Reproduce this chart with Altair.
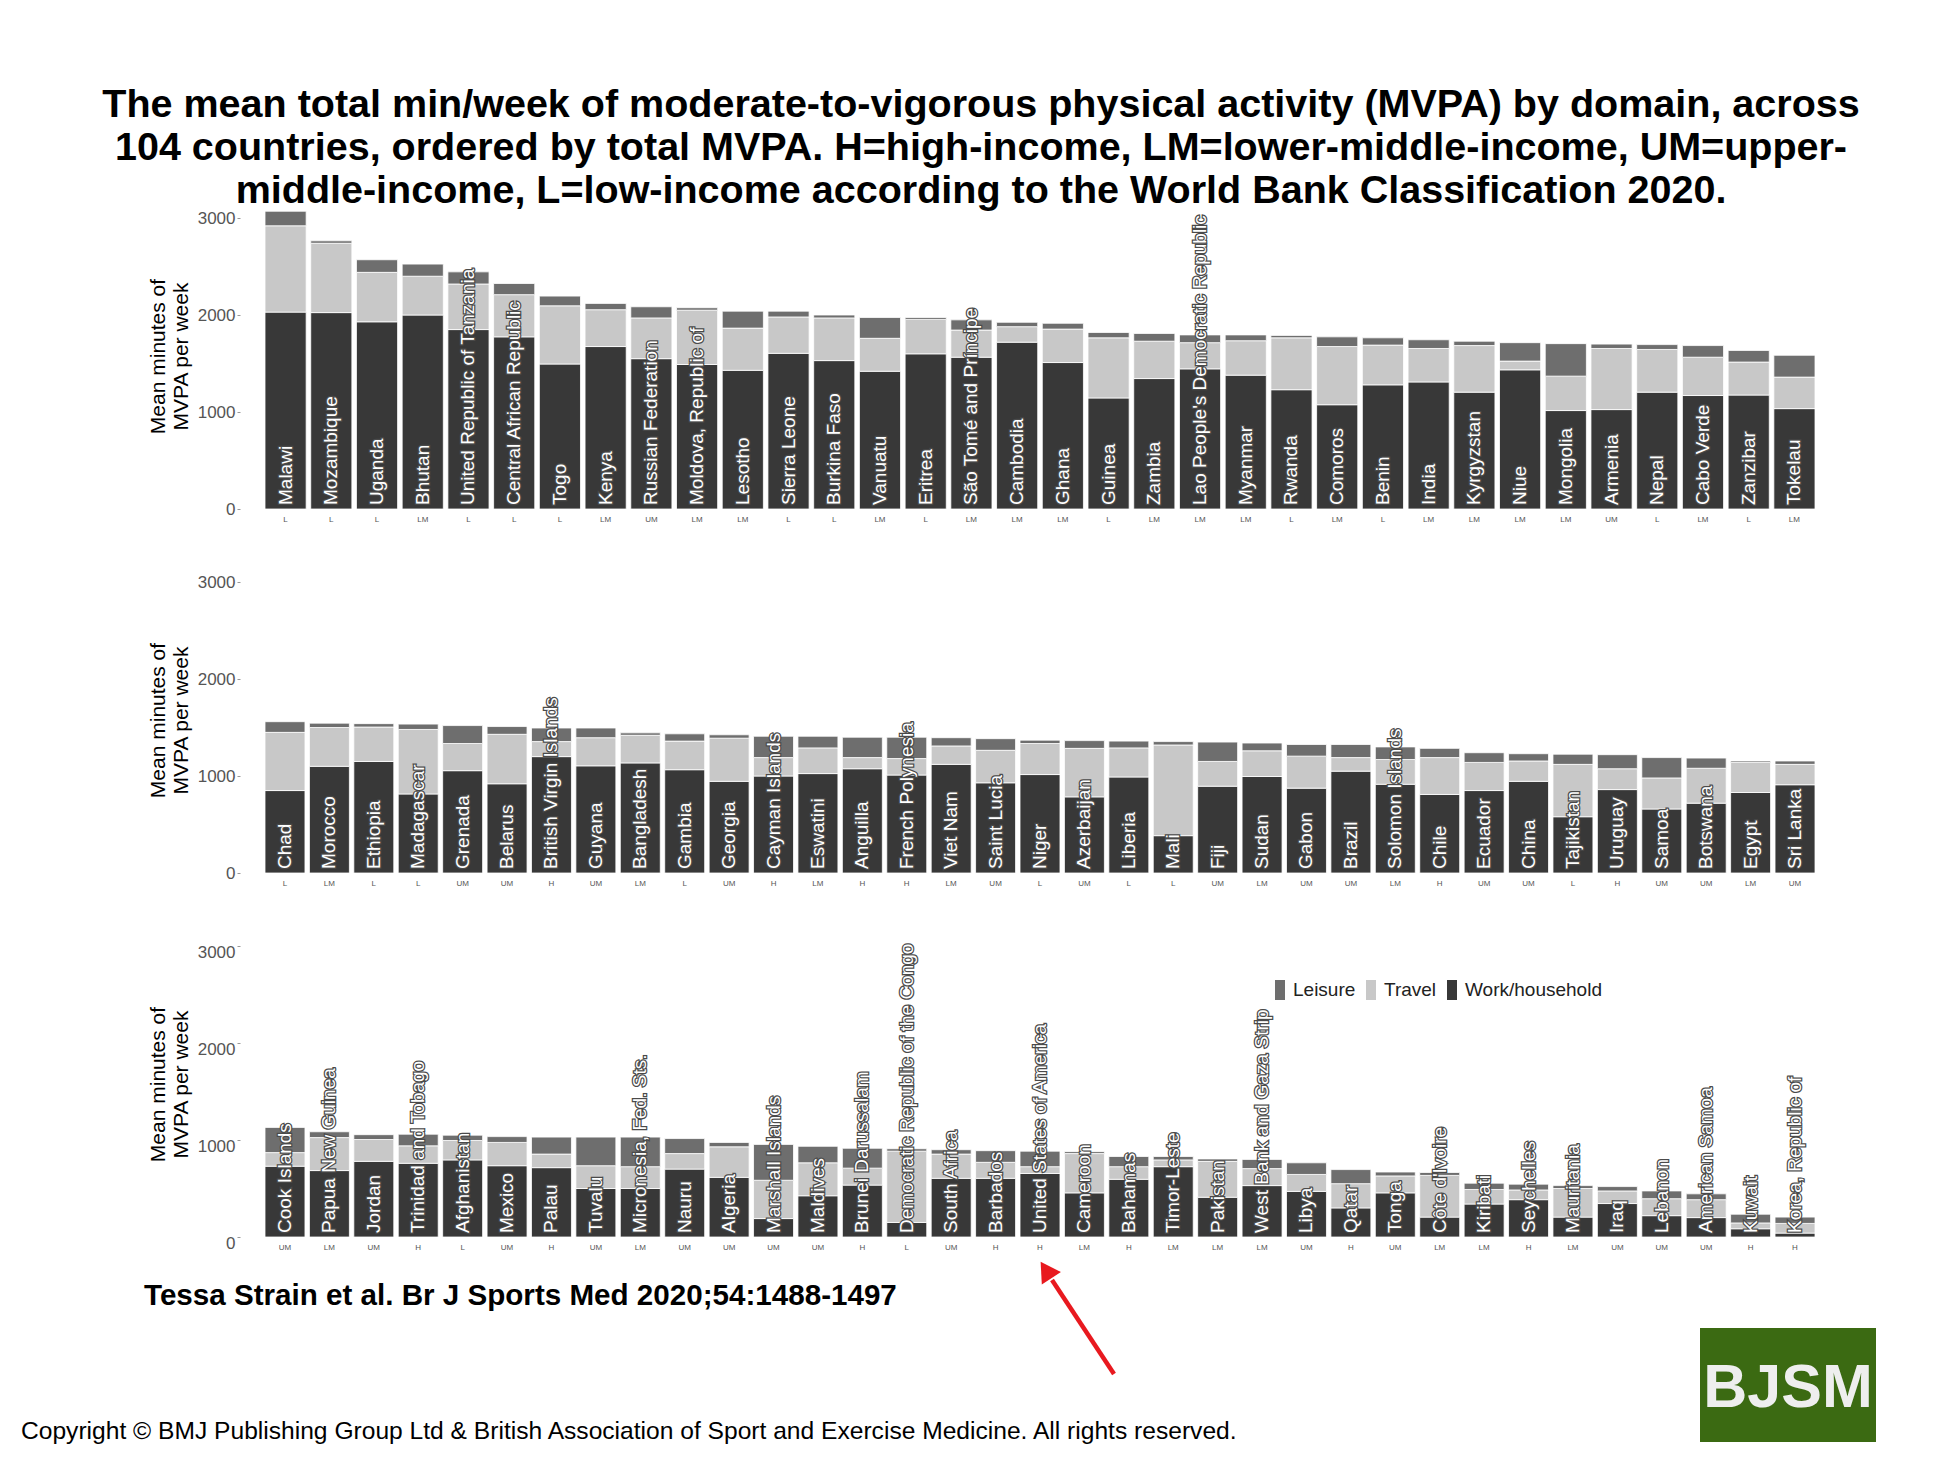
import altair as alt
import pandas as pd

# ---------------- data ----------------
countries1 = ["Malawi", "Mozambique", "Uganda", "Bhutan", "United Republic of Tanzania",
              "Central African Republic", "Togo", "Kenya", "Russian Federation",
              "Moldova, Republic of", "Lesotho", "Sierra Leone", "Burkina Faso", "Vanuatu",
              "Eritrea", "São Tomé and Príncipe", "Cambodia", "Ghana", "Guinea", "Zambia",
              "Lao People's Democratic Republic", "Myanmar", "Rwanda", "Comoros", "Benin",
              "India", "Kyrgyzstan", "Niue", "Mongolia", "Armenia", "Nepal", "Cabo Verde",
              "Zanzibar", "Tokelau"]
income1 = ["L", "L", "L", "LM", "L", "L", "L", "LM", "UM", "LM", "LM", "L", "L", "LM", "L", "LM",
           "LM", "LM", "L", "LM", "LM", "LM", "L", "LM", "L", "LM", "LM", "LM", "LM", "UM", "L",
           "LM", "L", "LM"]
work1 = [2030, 2025, 1930, 2000, 1850, 1775, 1495, 1675, 1550, 1490, 1430, 1605, 1530, 1420,
         1600, 1565, 1720, 1510, 1145, 1345, 1445, 1380, 1230, 1075, 1280, 1310, 1205, 1435,
         1015, 1025, 1205, 1170, 1175, 1035]
travel1 = [890, 715, 510, 400, 470, 435, 600, 380, 420, 560, 435, 375, 440, 340, 355, 280, 160,
           345, 620, 385, 270, 355, 535, 600, 410, 345, 480, 90, 355, 630, 440, 395, 340, 325]
leisure1 = [150, 25, 130, 125, 125, 115, 100, 65, 115, 25, 175, 60, 30, 215, 20, 105, 45, 60,
            55, 80, 80, 60, 25, 100, 75, 90, 45, 190, 335, 45, 50, 120, 120, 225]

countries2 = ["Chad", "Morocco", "Ethiopia", "Madagascar", "Grenada", "Belarus",
              "British Virgin Islands", "Guyana", "Bangladesh", "Gambia", "Georgia",
              "Cayman Islands", "Eswatini", "Anguilla", "French Polynesia", "Viet Nam",
              "Saint Lucia", "Niger", "Azerbaijan", "Liberia", "Mali", "Fiji", "Sudan", "Gabon",
              "Brazil", "Solomon Islands", "Chile", "Ecuador", "China", "Tajikistan", "Uruguay",
              "Samoa", "Botswana", "Egypt", "Sri Lanka"]
income2 = ["L", "LM", "L", "L", "UM", "UM", "H", "UM", "LM", "L", "UM", "H", "LM", "H", "H", "LM",
           "UM", "L", "UM", "L", "L", "UM", "LM", "UM", "UM", "LM", "H", "UM", "UM", "L", "H",
           "UM", "UM", "LM", "UM"]
work2 = [850, 1100, 1150, 815, 1055, 920, 1200, 1105, 1135, 1065, 945, 1000, 1025, 1075, 1010,
         1120, 930, 1015, 785, 990, 385, 895, 995, 875, 1050, 915, 810, 850, 945, 580, 860, 660,
         720, 830, 910]
travel2 = [600, 400, 355, 665, 280, 510, 155, 290, 285, 295, 445, 190, 265, 115, 170, 190, 335,
           320, 500, 300, 935, 255, 265, 330, 140, 255, 380, 290, 210, 540, 215, 320, 360, 310, 210]
leisure2 = [110, 45, 35, 55, 185, 80, 140, 100, 25, 75, 35, 220, 120, 210, 220, 85, 120, 35, 80,
            70, 35, 200, 80, 120, 135, 130, 95, 100, 75, 105, 145, 210, 105, 15, 35]

countries3 = ["Cook Islands", "Papua New Guinea", "Jordan", "Trinidad and Tobago", "Afghanistan",
              "Mexico", "Palau", "Tuvalu", "Micronesia, Fed. Sts.", "Nauru", "Algeria",
              "Marshall Islands", "Maldives", "Brunei Darussalam",
              "Democratic Republic of the Congo", "South Africa", "Barbados",
              "United States of America", "Cameroon", "Bahamas", "Timor-Leste", "Pakistan",
              "West Bank and Gaza Strip", "Libya", "Qatar", "Tonga", "Côte d'Ivoire", "Kiribati",
              "Seychelles", "Mauritania", "Iraq", "Lebanon", "American Samoa", "Kuwait",
              "Korea, Republic of"]
income3 = ["UM", "LM", "UM", "H", "L", "UM", "H", "UM", "LM", "UM", "UM", "UM", "UM", "H", "L",
           "UM", "H", "H", "LM", "H", "LM", "LM", "LM", "UM", "H", "UM", "LM", "LM", "H", "LM",
           "UM", "UM", "UM", "H", "H"]
work3 = [730, 685, 780, 760, 795, 735, 715, 500, 500, 700, 615, 190, 425, 535, 150, 605, 605,
         655, 455, 595, 725, 410, 530, 470, 300, 455, 205, 340, 385, 205, 345, 220, 200, 85, 40]
travel3 = [140, 340, 225, 180, 200, 240, 140, 235, 225, 160, 315, 395, 340, 175, 735, 250, 165,
           70, 405, 130, 70, 370, 175, 175, 250, 175, 430, 150, 100, 295, 130, 175, 185, 60, 100]
leisure3 = [260, 60, 50, 120, 55, 60, 175, 295, 305, 155, 45, 370, 170, 205, 25, 45, 120, 160,
            20, 105, 35, 25, 95, 120, 145, 40, 30, 65, 60, 30, 45, 80, 60, 90, 65]

domains = ["Leisure", "Travel", "Work/household"]
domain_colors = ["#6e6e6e", "#c8c8c8", "#383838"]

title_lines = [
    "The mean total min/week of moderate-to-vigorous physical activity (MVPA) by domain, across",
    "104 countries, ordered by total MVPA. H=high-income, LM=lower-middle-income, UM=upper-",
    "middle-income, L=low-income according to the World Bank Classification 2020.",
]
citation = "Tessa Strain et al. Br J Sports Med 2020;54:1488-1497"
copyright_text = ("Copyright \u00a9 BMJ Publishing Group Ltd & British Association of Sport and "
                  "Exercise Medicine. All rights reserved.")
logo_text = "BJSM"

FONT = "Liberation Sans"
W, H = 1550, 306


def one(**kw):
    return pd.DataFrame({k: [v] for k, v in kw.items()})


def panel(countries, income, work, travel, leisure, extras=(), legend=None, label_offset=0):
    rows = []
    for j, c in enumerate(countries):
        rows.append({"idx": j, "country": c, "domain": "Work/household", "value": work[j], "ord": 0})
        rows.append({"idx": j, "country": c, "domain": "Travel", "value": travel[j], "ord": 1})
        rows.append({"idx": j, "country": c, "domain": "Leisure", "value": leisure[j], "ord": 2})
    df = pd.DataFrame(rows)
    names = pd.DataFrame({"idx": list(range(len(countries))), "country": countries})
    label_expr = "[" + ",".join("'%s'" % s for s in income) + "][datum.value]"

    xscale = alt.Scale(paddingInner=0.1, paddingOuter=0)
    yscale = alt.Scale(domain=[0, 3155], nice=False)

    bars = alt.Chart(df).mark_bar(stroke="white", strokeWidth=0.8).encode(
        x=alt.X("idx:O", scale=xscale,
                axis=alt.Axis(title=None, labelExpr=label_expr, labelAngle=0, labelFontSize=8,
                              labelColor="#555555", labelFont=FONT, ticks=False, domain=False,
                              labelPadding=6)),
        y=alt.Y("value:Q", stack="zero", scale=yscale,
                axis=alt.Axis(values=[0, 1000, 2000, 3000], format="d",
                              title=["Mean minutes of", "MVPA per week"],
                              titleFont=FONT, titleFontSize=21, titleFontWeight="normal",
                              titleColor="#000000", titlePadding=6, labelFont=FONT,
                              labelFontSize=17, labelColor="#555555", tickSize=3,
                              tickColor="#999999", domain=False, grid=False, offset=25,
                              labelPadding=2, labelOffset=label_offset)),
        color=alt.Color("domain:N", scale=alt.Scale(domain=domains, range=domain_colors),
                        legend=legend),
        order=alt.Order("ord:Q", sort="ascending"),
    )
    halo = alt.Chart(names).mark_text(angle=270, align="left", baseline="middle", dx=4,
                                      fontSize=19, font=FONT, fill="white", stroke="#4a4a4a",
                                      strokeWidth=2.5).encode(
        x=alt.X("idx:O"), y=alt.Y(datum=0), text="country:N")
    txt = alt.Chart(names).mark_text(angle=270, align="left", baseline="middle", dx=4,
                                     fontSize=19, font=FONT, fill="white").encode(
        x=alt.X("idx:O"), y=alt.Y(datum=0), text="country:N")
    return alt.layer(bars, halo, txt, *extras).properties(width=W, height=H)


# ---------- title (top panel) ----------
title_layers = []
for k, line in enumerate(title_lines):
    title_layers.append(
        alt.Chart(one(t=line)).mark_text(align="center", baseline="alphabetic", fontSize=39.5,
                                         fontWeight="bold", font=FONT, color="black").encode(
            x=alt.value(716), y=alt.value(-86 + 43 * k), text="t:N"))

# ---------- footer / annotations (bottom panel) ----------
footer = [
    alt.Chart(one(t=citation)).mark_text(align="left", baseline="alphabetic", fontSize=29.6,
                                         fontWeight="bold", font=FONT, color="black").encode(
        x=alt.value(-121), y=alt.value(374), text="t:N"),
    alt.Chart(one(t=copyright_text)).mark_text(align="left", baseline="alphabetic", fontSize=24.6,
                                               font=FONT, color="black").encode(
        x=alt.value(-244), y=alt.value(508), text="t:N"),
    alt.Chart(one(t=logo_text)).mark_rect(color="#3b6a12").encode(
        x=alt.value(1435), x2=alt.value(1611), y=alt.value(397), y2=alt.value(511)),
    alt.Chart(one(t=logo_text)).mark_text(align="center", baseline="alphabetic", fontSize=61,
                                          fontWeight="bold", font=FONT,
                                          color="#eeeeee").encode(
        x=alt.value(1523), y=alt.value(476), text="t:N"),
    alt.Chart(one(t="arrow")).mark_rule(color="#e8191f", strokeWidth=4.5).encode(
        x=alt.value(849), y=alt.value(443), x2=alt.value(787), y2=alt.value(349)),
    alt.Chart(one(t="arrow")).mark_point(shape="triangle-up", filled=True, size=520,
                                         angle=327, color="#e8191f", opacity=1).encode(
        x=alt.value(781), y=alt.value(339)),
]

legend = alt.Legend(orient="none", legendX=1005, legendY=49, direction="horizontal",
                    title=None, symbolType="M-0.5,-1H0.5V1H-0.5Z", symbolSize=400,
                    symbolStrokeWidth=0, labelFontSize=19, labelFont=FONT, labelColor="#222222",
                    labelOffset=3, columnPadding=5, padding=0, columns=3)

p1 = panel(countries1, income1, work1, travel1, leisure1, extras=title_layers)
p2 = panel(countries2, income2, work2, travel2, leisure2)
p3 = panel(countries3, income3, work3, travel3, leisure3, extras=footer, legend=legend,
           label_offset=6)

chart = alt.vconcat(p1, p2, p3, spacing=58, bounds="flush").resolve_legend(
    color="independent").properties(
    padding={"left": 13, "top": 77, "right": 40, "bottom": 10},
    background="white",
).configure_view(stroke=None)

chart.save("out.html", embed_options={"renderer": "svg", "actions": False})
